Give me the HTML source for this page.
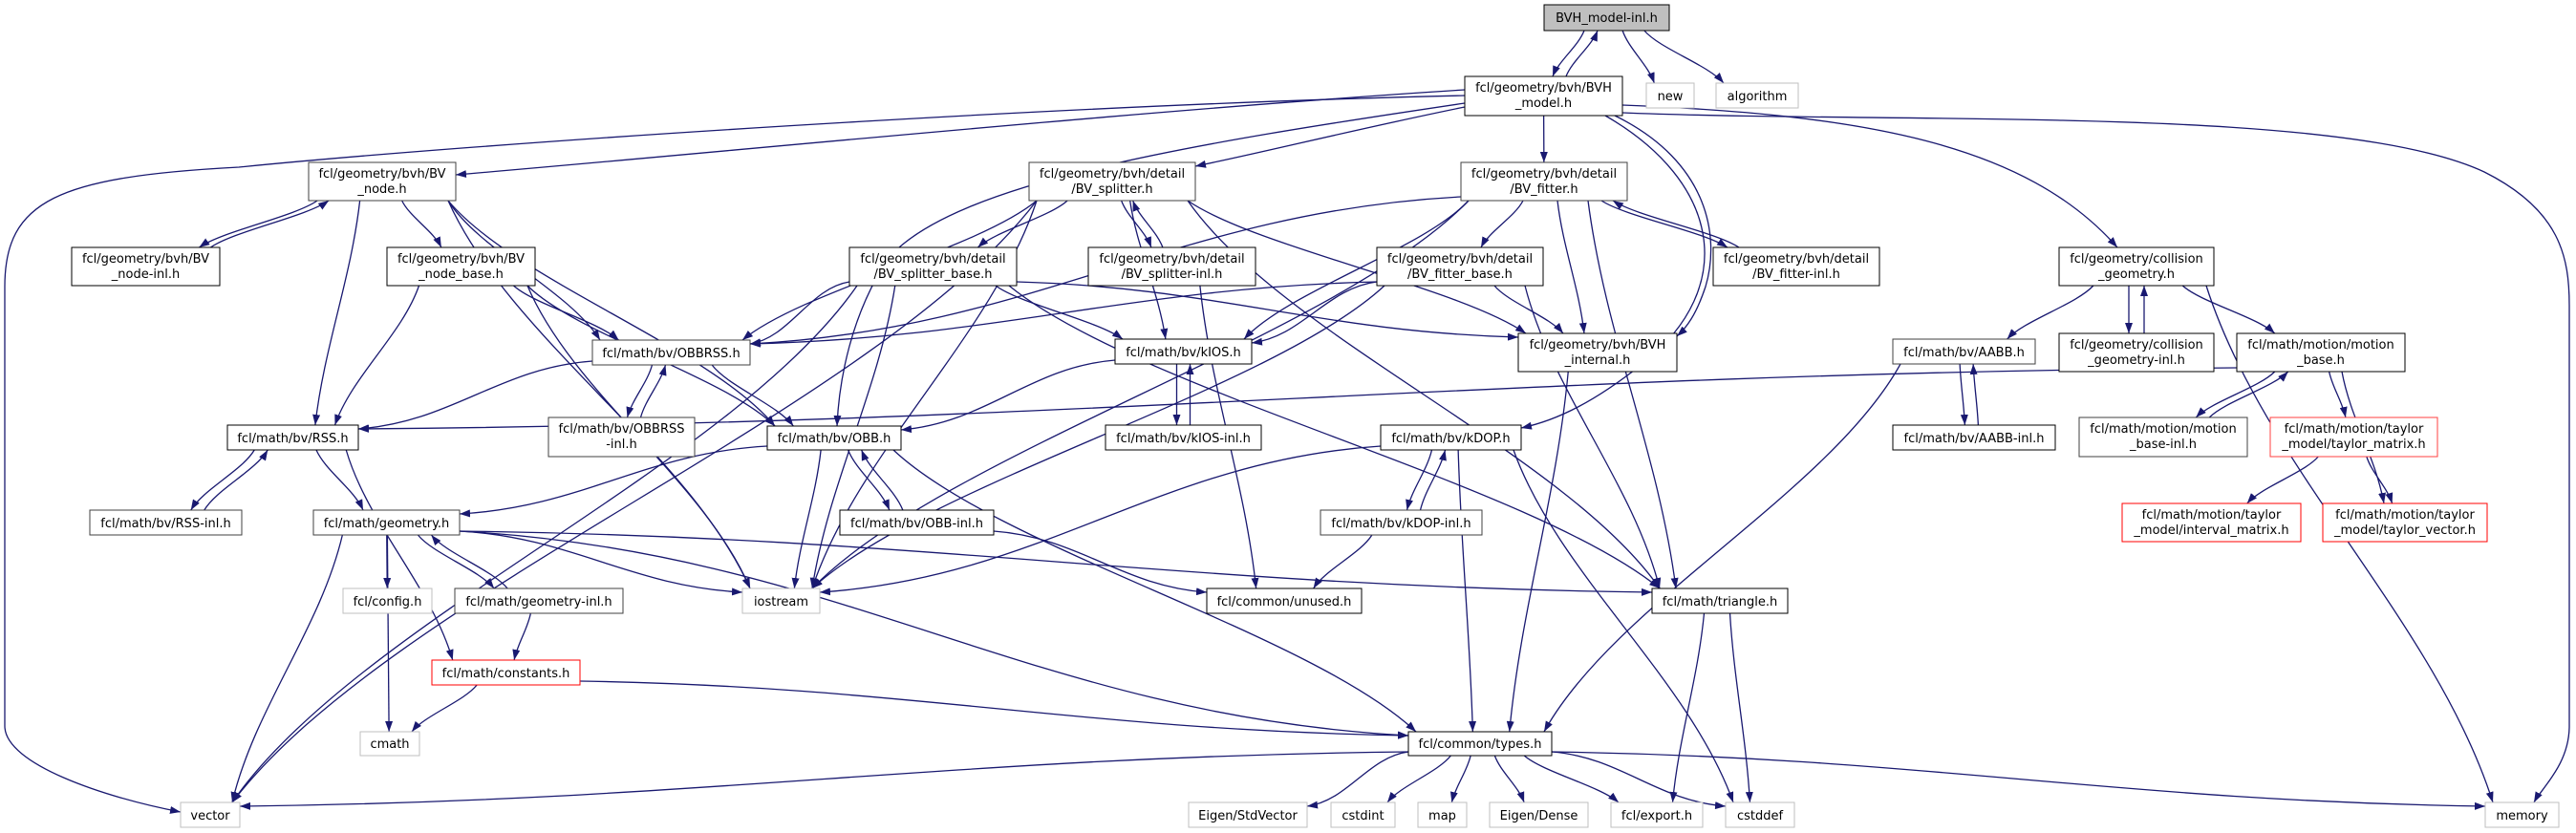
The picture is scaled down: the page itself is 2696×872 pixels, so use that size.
<!DOCTYPE html>
<html><head><meta charset="utf-8">
<style>
html,body{margin:0;padding:0;background:#fff;}
svg{display:block;}
text{font-family:"DejaVu Sans","Liberation Sans",sans-serif;font-size:13px;fill:#000;}
</style></head>
<body>
<svg id="g" width="2696" height="872" viewBox="0 0 2696 872" xmlns="http://www.w3.org/2000/svg">
<defs>
<marker id="ah" markerWidth="11" markerHeight="8" refX="11" refY="4" orient="auto" markerUnits="userSpaceOnUse">
<path d="M0,0 L11,4 L0,8 z" fill="#191970"/>
</marker>
</defs>
<g id="edges" fill="none" stroke="#191970" stroke-width="1.3"></g>
<g id="nodes">
<rect x="1616" y="5" width="131" height="27" fill="#bfbfbf" stroke="#000"/><text x="1681.5" y="23" text-anchor="middle">BVH_model-inl.h</text>
<rect x="1533" y="80" width="165" height="41" fill="#fff" stroke="#000"/><text x="1615.5" y="96" text-anchor="middle">fcl/geometry/bvh/BVH</text><text x="1615.5" y="112" text-anchor="middle">_model.h</text>
<rect x="1723" y="87" width="50" height="26" fill="#fff" stroke="#bfbfbf"/><text x="1748" y="105" text-anchor="middle">new</text>
<rect x="1796" y="87" width="86" height="26" fill="#fff" stroke="#bfbfbf"/><text x="1839" y="105" text-anchor="middle">algorithm</text>
<rect x="323" y="170" width="154" height="40" fill="#fff" stroke="#404040"/><text x="400" y="186" text-anchor="middle">fcl/geometry/bvh/BV</text><text x="400" y="202" text-anchor="middle">_node.h</text>
<rect x="1077" y="170" width="174" height="40" fill="#fff" stroke="#404040"/><text x="1164" y="186" text-anchor="middle">fcl/geometry/bvh/detail</text><text x="1164" y="202" text-anchor="middle">/BV_splitter.h</text>
<rect x="1529" y="170" width="174" height="40" fill="#fff" stroke="#404040"/><text x="1616" y="186" text-anchor="middle">fcl/geometry/bvh/detail</text><text x="1616" y="202" text-anchor="middle">/BV_fitter.h</text>
<rect x="75" y="259" width="155" height="40" fill="#fff" stroke="#000"/><text x="152.5" y="275" text-anchor="middle">fcl/geometry/bvh/BV</text><text x="152.5" y="291" text-anchor="middle">_node-inl.h</text>
<rect x="405" y="259" width="155" height="40" fill="#fff" stroke="#000"/><text x="482.5" y="275" text-anchor="middle">fcl/geometry/bvh/BV</text><text x="482.5" y="291" text-anchor="middle">_node_base.h</text>
<rect x="889" y="259" width="175" height="40" fill="#fff" stroke="#000"/><text x="976.5" y="275" text-anchor="middle">fcl/geometry/bvh/detail</text><text x="976.5" y="291" text-anchor="middle">/BV_splitter_base.h</text>
<rect x="1139" y="259" width="175" height="40" fill="#fff" stroke="#000"/><text x="1226.5" y="275" text-anchor="middle">fcl/geometry/bvh/detail</text><text x="1226.5" y="291" text-anchor="middle">/BV_splitter-inl.h</text>
<rect x="1441" y="259" width="174" height="40" fill="#fff" stroke="#000"/><text x="1528" y="275" text-anchor="middle">fcl/geometry/bvh/detail</text><text x="1528" y="291" text-anchor="middle">/BV_fitter_base.h</text>
<rect x="1793" y="259" width="174" height="40" fill="#fff" stroke="#000"/><text x="1880" y="275" text-anchor="middle">fcl/geometry/bvh/detail</text><text x="1880" y="291" text-anchor="middle">/BV_fitter-inl.h</text>
<rect x="2155" y="259" width="162" height="40" fill="#fff" stroke="#000"/><text x="2236" y="275" text-anchor="middle">fcl/geometry/collision</text><text x="2236" y="291" text-anchor="middle">_geometry.h</text>
<rect x="620" y="356" width="165" height="26" fill="#fff" stroke="#404040"/><text x="702.5" y="374" text-anchor="middle">fcl/math/bv/OBBRSS.h</text>
<rect x="1167" y="355" width="143" height="26" fill="#fff" stroke="#000"/><text x="1238.5" y="373" text-anchor="middle">fcl/math/bv/kIOS.h</text>
<rect x="1589" y="349" width="166" height="40" fill="#fff" stroke="#000"/><text x="1672" y="365" text-anchor="middle">fcl/geometry/bvh/BVH</text><text x="1672" y="381" text-anchor="middle">_internal.h</text>
<rect x="1981" y="355" width="149" height="26" fill="#fff" stroke="#404040"/><text x="2055.5" y="373" text-anchor="middle">fcl/math/bv/AABB.h</text>
<rect x="2155" y="349" width="162" height="40" fill="#fff" stroke="#000"/><text x="2236" y="365" text-anchor="middle">fcl/geometry/collision</text><text x="2236" y="381" text-anchor="middle">_geometry-inl.h</text>
<rect x="2341" y="349" width="176" height="40" fill="#fff" stroke="#000"/><text x="2429" y="365" text-anchor="middle">fcl/math/motion/motion</text><text x="2429" y="381" text-anchor="middle">_base.h</text>
<rect x="238" y="445" width="137" height="26" fill="#fff" stroke="#000"/><text x="306.5" y="463" text-anchor="middle">fcl/math/bv/RSS.h</text>
<rect x="574" y="437" width="153" height="41" fill="#fff" stroke="#404040"/><text x="650.5" y="453" text-anchor="middle">fcl/math/bv/OBBRSS</text><text x="650.5" y="469" text-anchor="middle">-inl.h</text>
<rect x="803" y="446" width="140" height="25" fill="#fff" stroke="#000"/><text x="873" y="463" text-anchor="middle">fcl/math/bv/OBB.h</text>
<rect x="1157" y="445" width="163" height="26" fill="#fff" stroke="#000"/><text x="1238.5" y="463" text-anchor="middle">fcl/math/bv/kIOS-inl.h</text>
<rect x="1445" y="445" width="147" height="26" fill="#fff" stroke="#000"/><text x="1518.5" y="463" text-anchor="middle">fcl/math/bv/kDOP.h</text>
<rect x="1981" y="445" width="170" height="26" fill="#fff" stroke="#000"/><text x="2066" y="463" text-anchor="middle">fcl/math/bv/AABB-inl.h</text>
<rect x="2176" y="437" width="176" height="41" fill="#fff" stroke="#404040"/><text x="2264" y="453" text-anchor="middle">fcl/math/motion/motion</text><text x="2264" y="469" text-anchor="middle">_base-inl.h</text>
<rect x="2376" y="437" width="175" height="41" fill="#fff" stroke="#ff4040"/><text x="2463.5" y="453" text-anchor="middle">fcl/math/motion/taylor</text><text x="2463.5" y="469" text-anchor="middle">_model/taylor_matrix.h</text>
<rect x="94" y="534" width="159" height="26" fill="#fff" stroke="#404040"/><text x="173.5" y="552" text-anchor="middle">fcl/math/bv/RSS-inl.h</text>
<rect x="328" y="534" width="153" height="26" fill="#fff" stroke="#404040"/><text x="404.5" y="552" text-anchor="middle">fcl/math/geometry.h</text>
<rect x="879" y="534" width="161" height="26" fill="#fff" stroke="#000"/><text x="959.5" y="552" text-anchor="middle">fcl/math/bv/OBB-inl.h</text>
<rect x="1382" y="534" width="169" height="26" fill="#fff" stroke="#404040"/><text x="1466.5" y="552" text-anchor="middle">fcl/math/bv/kDOP-inl.h</text>
<rect x="2221" y="527" width="187" height="40" fill="#fff" stroke="#ff0000"/><text x="2314.5" y="543" text-anchor="middle">fcl/math/motion/taylor</text><text x="2314.5" y="559" text-anchor="middle">_model/interval_matrix.h</text>
<rect x="2431" y="527" width="172" height="40" fill="#fff" stroke="#ff0000"/><text x="2517" y="543" text-anchor="middle">fcl/math/motion/taylor</text><text x="2517" y="559" text-anchor="middle">_model/taylor_vector.h</text>
<rect x="359" y="616" width="93" height="26" fill="#fff" stroke="#bfbfbf"/><text x="405.5" y="634" text-anchor="middle">fcl/config.h</text>
<rect x="476" y="616" width="176" height="26" fill="#fff" stroke="#404040"/><text x="564" y="634" text-anchor="middle">fcl/math/geometry-inl.h</text>
<rect x="777" y="616" width="81" height="26" fill="#fff" stroke="#bfbfbf"/><text x="817.5" y="634" text-anchor="middle">iostream</text>
<rect x="1263" y="616" width="162" height="26" fill="#fff" stroke="#000"/><text x="1344" y="634" text-anchor="middle">fcl/common/unused.h</text>
<rect x="1729" y="616" width="142" height="26" fill="#fff" stroke="#000"/><text x="1800" y="634" text-anchor="middle">fcl/math/triangle.h</text>
<rect x="452" y="691" width="155" height="26" fill="#fff" stroke="#ff0000"/><text x="529.5" y="709" text-anchor="middle">fcl/math/constants.h</text>
<rect x="377" y="766" width="62" height="25" fill="#fff" stroke="#bfbfbf"/><text x="408" y="783" text-anchor="middle">cmath</text>
<rect x="1474" y="766" width="150" height="25" fill="#fff" stroke="#000"/><text x="1549" y="783" text-anchor="middle">fcl/common/types.h</text>
<rect x="189" y="840" width="62" height="26" fill="#fff" stroke="#bfbfbf"/><text x="220" y="858" text-anchor="middle">vector</text>
<rect x="1244" y="840" width="124" height="26" fill="#fff" stroke="#bfbfbf"/><text x="1306" y="858" text-anchor="middle">Eigen/StdVector</text>
<rect x="1393" y="840" width="67" height="26" fill="#fff" stroke="#bfbfbf"/><text x="1426.5" y="858" text-anchor="middle">cstdint</text>
<rect x="1484" y="840" width="51" height="26" fill="#fff" stroke="#bfbfbf"/><text x="1509.5" y="858" text-anchor="middle">map</text>
<rect x="1559" y="840" width="103" height="26" fill="#fff" stroke="#bfbfbf"/><text x="1610.5" y="858" text-anchor="middle">Eigen/Dense</text>
<rect x="1686" y="840" width="96" height="26" fill="#fff" stroke="#bfbfbf"/><text x="1734" y="858" text-anchor="middle">fcl/export.h</text>
<rect x="1806" y="840" width="72" height="26" fill="#fff" stroke="#bfbfbf"/><text x="1842" y="858" text-anchor="middle">cstddef</text>
<rect x="2601" y="840" width="77" height="26" fill="#fff" stroke="#bfbfbf"/><text x="2639.5" y="858" text-anchor="middle">memory</text>
</g>
</svg>
<script>
var N={
top:[1616,5,1747,32],bvhm:[1533,80,1698,121],nw:[1723,87,1773,113],alg:[1796,87,1882,113],
bvnode:[323,170,477,210],split:[1077,170,1251,210],fitter:[1529,170,1703,210],
bvninl:[75,259,230,299],bvnbase:[405,259,560,299],splbase:[889,259,1064,299],splinl:[1139,259,1314,299],
fitbase:[1441,259,1615,299],fitinl:[1793,259,1967,299],colgeo:[2155,259,2317,299],
obbrss:[620,356,785,382],kios:[1167,355,1310,381],bvhint:[1589,349,1755,389],aabb:[1981,355,2130,381],
colinl:[2155,349,2317,389],motion:[2341,349,2517,389],
rss:[238,445,375,471],obbrssinl:[574,437,727,478],obb:[803,446,943,471],kiosinl:[1157,445,1320,471],
kdop:[1445,445,1592,471],aabbinl:[1981,445,2151,471],motinl:[2176,437,2352,478],tmat:[2376,437,2551,478],
rssinl:[94,534,253,560],geom:[328,534,481,560],obbinl:[879,534,1040,560],kdopinl:[1382,534,1551,560],
imat:[2221,527,2408,567],tvec:[2431,527,2603,567],
config:[359,616,452,642],geominl:[476,616,652,642],iostream:[777,616,858,642],unused:[1263,616,1425,642],
tri:[1729,616,1871,642],cnst:[452,691,607,717],cmath:[377,766,439,791],types:[1474,766,1624,791],
vector:[189,840,251,866],stdvec:[1244,840,1368,866],cstdint:[1393,840,1460,866],map:[1484,840,1535,866],
dense:[1559,840,1662,866],exp:[1686,840,1782,866],cstddef:[1806,840,1878,866],memory:[2601,840,2678,866]};
var E=[
['top','bvhm',-7],['bvhm','top',7],['top','nw'],['top','alg'],
['bvhm','fitter'],
['bvnode','bvninl',-6],['bvninl','bvnode',6],['bvnode','bvnbase'],['bvnode','obbrss'],['bvnode','obb'],['bvnode','rss'],['bvnode','iostream'],
['bvnbase','rss'],['bvnbase','obbrss'],['bvnbase','obb'],['bvnbase','iostream'],
['split','splbase'],['split','splinl',-6],['splinl','split',6],['split','obbrss'],['split','kios'],['split','iostream'],['split','vector'],['split','bvhint'],['split','tri'],
['splbase','obbrss'],['splbase','kios'],['splbase','bvhint'],['splbase','tri'],['splbase','iostream'],['splbase','vector'],
['splinl','unused'],
['fitter','fitbase'],['fitter','fitinl',-6],['fitinl','fitter',6],['fitter','bvhint'],['fitter','obbrss'],['fitter','kios'],['fitter','iostream'],['fitter','tri'],
['fitbase','obbrss'],['fitbase','kios'],['fitbase','bvhint'],['fitbase','iostream'],['fitbase','tri'],
['colgeo','aabb'],['colgeo','colinl',-8],['colinl','colgeo',8],['colgeo','motion'],['colgeo','memory'],
['obbrss','rss'],['obbrss','obb'],['obbrss','obbrssinl',-7],['obbrssinl','obbrss',7],
['kios','obb'],['kios','kiosinl',-7],['kiosinl','kios',7],
['bvhint','types'],
['aabb','aabbinl',-7],['aabbinl','aabb',7],['aabb','types'],
['motion','motinl',-7],['motinl','motion',7],['motion','tmat'],['motion','tvec'],['motion','rss'],
['tmat','imat'],['tmat','tvec'],
['rss','geom'],['rss','rssinl',-7],['rssinl','rss',7],['rss','cnst'],
['obb','geom'],['obb','iostream'],['obb','obbinl',-7],['obbinl','obb',7],['obb','types'],
['obbinl','unused'],
['kdop','kdopinl',-7],['kdopinl','kdop',7],['kdop','iostream'],['kdop','types'],['kdop','cstddef'],
['kdopinl','unused'],
['geom','config'],['geom','geominl',-7],['geominl','geom',7],['geom','iostream'],['geom','vector'],['geom','cmath'],['geom','tri'],['geom','types'],
['geominl','cnst'],['cnst','cmath'],['cnst','types'],
['tri','exp'],['tri','cstddef'],
['types','vector'],['types','stdvec'],['types','cstdint'],['types','map'],['types','dense'],['types','exp'],['types','cstddef'],['types','memory']
];
var custom=[
'M1533,100 C1100,110 500,150 250,175 C60,185 5,210 5,300 L5,760 C5,800 110,835 189,850',
'M1698,118 C2000,130 2450,110 2600,180 C2680,220 2689,270 2689,320 L2689,760 C2689,800 2660,825 2652,840',
'M1533,94 C1200,115 750,160 477,183',
'M1533,112 C1420,135 1320,160 1251,174',
'M1533,108 C1250,150 1000,190 930,270 C890,330 878,400 876,446',
'M1690,121 C1790,170 1800,250 1785,300 C1775,330 1765,343 1755,352',
'M1680,121 C1800,190 1820,300 1720,380 C1670,420 1630,440 1592,448',
'M1698,110 C1950,120 2120,150 2216,259'
];
var NS='http://www.w3.org/2000/svg',G=document.getElementById('edges');
function add(d){var p=document.createElementNS(NS,'path');p.setAttribute('d',d);p.setAttribute('marker-end','url(#ah)');G.appendChild(p);}
custom.forEach(add);
function cl(v,a,b){return Math.max(a,Math.min(b,v));}
E.forEach(function(e){
 var s=N[e[0]],t=N[e[1]],o=e[2]||0;
 var scx=(s[0]+s[2])/2,scy=(s[1]+s[3])/2,tcx=(t[0]+t[2])/2,tcy=(t[1]+t[3])/2;
 var dx=tcx-scx,dy=tcy-scy,d;
 if(Math.abs(dx)>3*Math.abs(dy)){
  var sx=dx>0?s[2]:s[0],tx=dx>0?t[0]:t[2];
  var sy=cl(scy+dy*0.3,s[1]+4,s[3]-4),ty=cl(tcy-dy*0.3,t[1]+4,t[3]-4);
  d='M'+sx+','+sy+' C'+(sx+(tx-sx)*0.4)+','+(sy+(ty-sy)*0.1)+' '+(tx-(tx-sx)*0.4)+','+(ty-(ty-sy)*0.1)+' '+tx+','+ty;
 } else {
  var down=dy>0;
  var sx=cl(scx+dx*0.25,s[0]+8,s[2]-8)+o,tx=cl(tcx-dx*0.25,t[0]+8,t[2]-8)+o;
  var sy=down?s[3]:s[1],ty=down?t[1]:t[3],h=ty-sy,w=tx-sx;
  d='M'+sx+','+sy+' C'+(sx+w*0.2)+','+(sy+h*0.35)+' '+(tx-w*0.2)+','+(ty-h*0.35)+' '+tx+','+ty;
 }
 add(d);
});
</script>
</body></html>
